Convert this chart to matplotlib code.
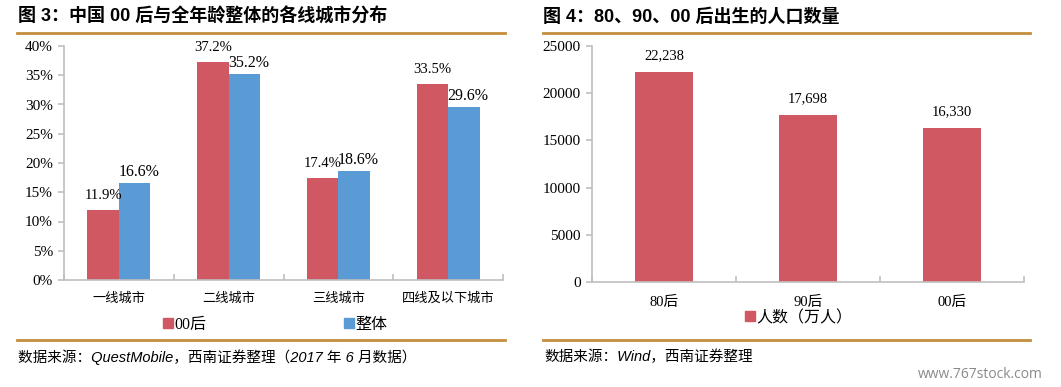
import matplotlib
matplotlib.use("Agg")
import matplotlib.pyplot as plt
from matplotlib.lines import Line2D
import numpy as np

# ---------------- data ----------------
city_cats = ["一线城市", "二线城市", "三线城市", "四线及以下城市"]
share_00 = [11.9, 37.2, 17.4, 33.5]
share_all = [16.6, 35.2, 18.6, 29.6]
series_names = ["00后", "整体"]
pct_ticks = [0, 5, 10, 15, 20, 25, 30, 35, 40]

gen_cats = ["80后", "90后", "00后"]
gen_pop = [22238, 17698, 16330]
pop_ticks = [0, 5000, 10000, 15000, 20000, 25000]
pop_legend = "人数（万人）"

title_left = "图 3：中国 00 后与全年龄整体的各线城市分布"
title_right = "图 4：80、90、00 后出生的人口数量"
src_left = "数据来源：QuestMobile，西南证券整理（2017 年 6 月数据）"
src_right = "数据来源：Wind，西南证券整理"
watermark = "www.767stock.com"

# ---------------- style ----------------
W, H = 1061, 387
RED = "#D05862"
BLUE = "#5B9BD5"
GOLD = "#C48E3E"
AXC = "#BFBFBF"
SERIF = ["Liberation Serif", "Noto Sans CJK SC"]
SANS_B = ["Liberation Sans", "Noto Sans CJK SC"]

fig = plt.figure(figsize=(W / 100, H / 100), dpi=100)
fig.patch.set_facecolor("white")


def px_axes(x0, y0, x1, y1):
    return fig.add_axes([x0 / W, 1 - y1 / H, (x1 - x0) / W, (y1 - y0) / H])


def style_axes(ax, n):
    for s in ["top", "right"]:
        ax.spines[s].set_visible(False)
    for s in ["left", "bottom"]:
        ax.spines[s].set_color(AXC)
        ax.spines[s].set_linewidth(1.2)
    ax.tick_params(axis="y", direction="out", length=4, color=AXC, width=1.2,
                   labelsize=11, pad=4)
    ax.tick_params(axis="x", which="major", length=0, labelsize=9.5, pad=9)
    ax.set_xticks(np.arange(-0.5, n, 1.0), minor=True)
    ax.tick_params(axis="x", which="minor", direction="in", length=4, color=AXC, width=1.2)
    ax.set_xlim(-0.5, n - 0.5)
    for lab in ax.get_yticklabels() + ax.get_xticklabels():
        lab.set_fontfamily(SERIF)


# ---------------- left chart ----------------
axL = px_axes(64, 46, 503, 280)
x = np.arange(len(city_cats))
bw = 0.287
axL.bar(x - bw / 2, share_00, bw, color=RED, label=series_names[0])
axL.bar(x + bw / 2, share_all, bw, color=BLUE, label=series_names[1])
axL.set_ylim(0, 40)
axL.set_yticks(pct_ticks)
axL.set_yticklabels([f"{t}%" for t in pct_ticks])
axL.set_xticks(x)
axL.set_xticklabels(city_cats)
style_axes(axL, len(city_cats))
for xi, v in zip(x, share_00):
    axL.annotate(f"{v}%", (xi - bw / 2, v), xytext=(0, 6), textcoords="offset points",
                 ha="center", va="bottom", fontsize=10.5, fontfamily=SERIF)
for xi, v in zip(x, share_all):
    axL.annotate(f"{v}%", (xi + bw / 2, v), xytext=(3, 2), textcoords="offset points",
                 ha="center", va="bottom", fontsize=11.5, fontfamily=SERIF)

hL = [Line2D([], [], marker="s", linestyle="", markersize=7.5, color=RED),
      Line2D([], [], marker="s", linestyle="", markersize=7.5, color=BLUE)]
fig.legend(hL, series_names, loc="center", bbox_to_anchor=(275 / W, 1 - 325 / H),
           ncol=2, frameon=False, columnspacing=8.6, handletextpad=0.05,
           handlelength=0.7, prop={"family": SERIF, "size": 11.5})

# ---------------- right chart ----------------
axR = px_axes(592, 46, 1024, 282)
xr = np.arange(len(gen_cats))
axR.bar(xr, gen_pop, 0.40, color=RED)
axR.set_ylim(0, 25000)
axR.set_yticks(pop_ticks)
axR.set_yticklabels([str(t) for t in pop_ticks])
axR.set_xticks(xr)
axR.set_xticklabels(gen_cats)
style_axes(axR, len(gen_cats))
axR.tick_params(axis="x", which="major", pad=10, labelsize=10.5)
for xi, v in zip(xr, gen_pop):
    axR.annotate(f"{v:,}", (xi, v), xytext=(0, 7), textcoords="offset points",
                 ha="center", va="bottom", fontsize=10.5, fontfamily=SERIF)

hR = [Line2D([], [], marker="s", linestyle="", markersize=7.5, color=RED)]
fig.legend(hR, [pop_legend], loc="center", bbox_to_anchor=(798 / W, 1 - 318 / H),
           frameon=False, handletextpad=0.05, handlelength=0.7,
           prop={"family": SERIF, "size": 11.5})

# ---------------- titles, rules, sources ----------------
fig.text(18 / W, 1 - 17 / H, title_left, ha="left", va="center", fontsize=13,
         fontweight="bold", fontfamily=SANS_B)
fig.text(543 / W, 1 - 17 / H, title_right, ha="left", va="center", fontsize=13,
         fontweight="bold", fontfamily=SANS_B)

for (x0, x1) in [(17, 505), (543, 1030)]:
    for y in [33, 340]:
        fig.add_artist(Line2D([x0 / W, x1 / W], [1 - y / H, 1 - y / H], color=GOLD,
                              linewidth=2, transform=fig.transFigure))

fig.text(18 / W, 1 - 357 / H, src_left, ha="left", va="center", fontsize=10.5,
         fontstyle="italic", fontfamily=["Liberation Sans", "Noto Sans CJK SC"])
fig.text(544 / W, 1 - 357 / H, src_right, ha="left", va="center", fontsize=10.5,
         fontstyle="italic", fontfamily=["Liberation Sans", "Noto Sans CJK SC"])
fig.text(1043 / W, 1 - 374 / H, watermark, ha="right", va="center", fontsize=10,
         color="#8A8A8A", fontfamily="Open Sans")

fig.savefig("out.png", dpi=100, facecolor="white")
